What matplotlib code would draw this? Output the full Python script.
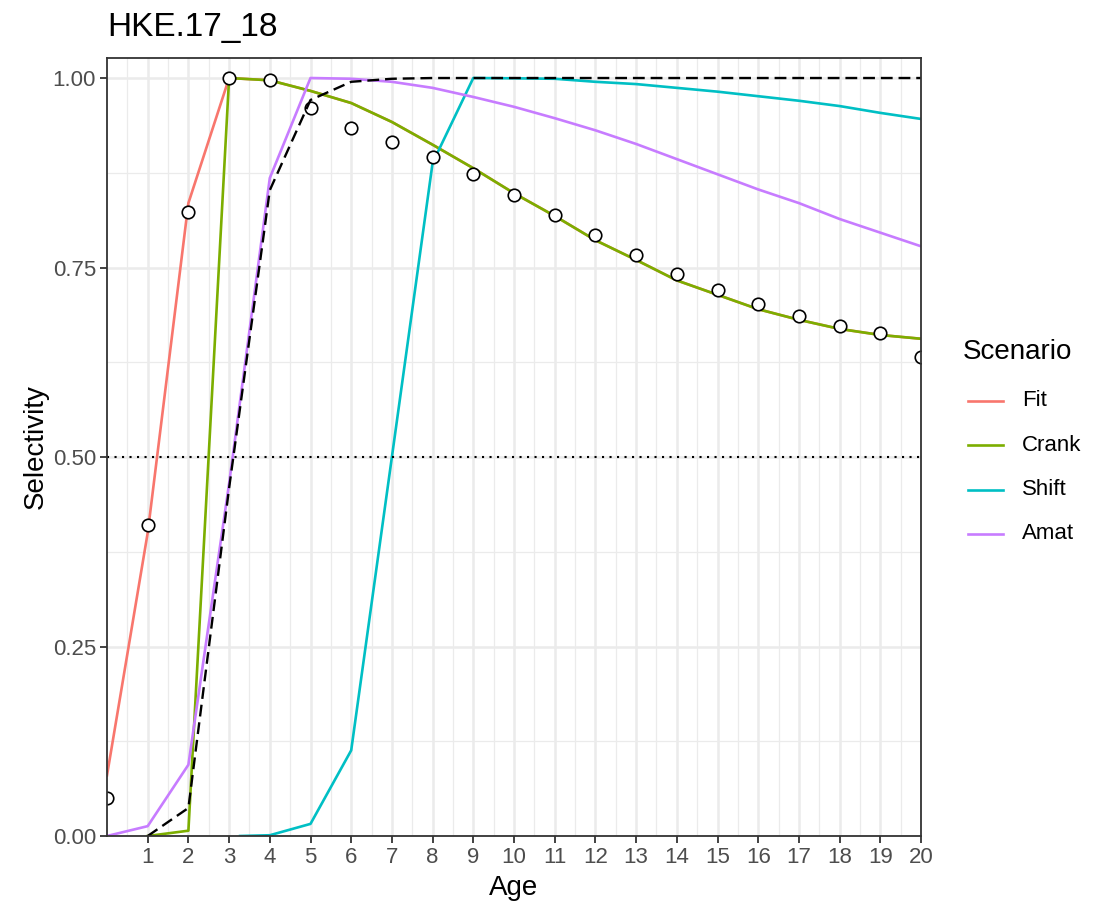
import matplotlib
matplotlib.use("Agg")
import matplotlib.pyplot as plt
from matplotlib.lines import Line2D
import numpy as np

plt.rcParams['font.family'] = ['Liberation Sans', 'DejaVu Sans']

# ---- data ----
ages = list(range(0, 21))
observed = [0.050, 0.410, 0.823, 1.000, 0.997, 0.960, 0.934, 0.916, 0.896, 0.873,
            0.846, 0.819, 0.793, 0.767, 0.741, 0.720, 0.702, 0.686, 0.673, 0.664, 0.632]

crank_ages = list(range(1, 21))
crank = [0.000, 0.007, 1.000, 0.997, 0.983, 0.967, 0.942, 0.912, 0.881, 0.848,
         0.818, 0.786, 0.760, 0.733, 0.714, 0.695, 0.681, 0.669, 0.661, 0.656]

fit = [0.080, 0.400, 0.835, 1.000, 0.997, 0.983, 0.967, 0.942, 0.912, 0.881, 0.848,
       0.818, 0.786, 0.760, 0.733, 0.714, 0.695, 0.681, 0.669, 0.661, 0.656]

shift_ages = [3.27, 4, 5, 6, 7, 8, 9, 10, 11, 12, 13, 14, 15, 16, 17, 18, 19, 20]
shift = [0.000, 0.001, 0.016, 0.113, 0.500, 0.888, 1.000, 0.9996, 0.999, 0.995,
         0.992, 0.987, 0.982, 0.976, 0.970, 0.963, 0.954, 0.946]

amat = [0.000, 0.013, 0.094, 0.465, 0.868, 1.000, 0.999, 0.995, 0.987, 0.975, 0.962,
        0.947, 0.931, 0.913, 0.893, 0.873, 0.853, 0.835, 0.814, 0.796, 0.778]

mat_ages = list(range(1, 21))
maturity = [0.000, 0.037, 0.459, 0.852, 0.971, 0.995, 0.999, 1.000, 1.000, 1.000,
            1.000, 1.000, 1.000, 1.000, 1.000, 1.000, 1.000, 1.000, 1.000, 1.000]

scenarios = ["Fit", "Crank", "Shift", "Amat"]
colors = ["#F8766D", "#7CAE00", "#00BFC4", "#C77CFF"]

x_ticks = list(range(1, 21))
y_ticks = [0.0, 0.25, 0.5, 0.75, 1.0]
y_labels = ["0.00", "0.25", "0.50", "0.75", "1.00"]

W, H = 1107, 906

# ---- figure ----
fig = plt.figure(figsize=(W / 100, H / 100), dpi=100)
ax = fig.add_axes([107/W, 70/H, (921-107)/W, (836-58)/H])

ax.set_xlim(0, 20)
ax.set_ylim(0, 1.0264)

# grid
ax.set_xticks(x_ticks)
ax.set_xticks(np.arange(0.5, 20, 0.5), minor=True)
ax.set_yticks(y_ticks)
ax.set_yticks([0.125, 0.375, 0.625, 0.875], minor=True)
ax.set_yticklabels(y_labels)
ax.grid(which='major', color='#EBEBEB', linewidth=1.8, zorder=0)
ax.grid(which='minor', color='#EBEBEB', linewidth=0.9, zorder=0)
ax.set_axisbelow(True)
ax.tick_params(which='minor', length=0)
ax.tick_params(which='major', length=5, width=1.3, color='#333333',
               labelsize=16, labelcolor='#4D4D4D', pad=3)
for s in ax.spines.values():
    s.set_color('#333333')
    s.set_linewidth(1.3)
    s.set_zorder(6)

lw = 1.9
series = [(ages, fit), (crank_ages, crank), (shift_ages, shift), (ages, amat)]
for (xa, ya), name, c in zip(series, scenarios, colors):
    ax.plot(xa, ya, color=c, lw=lw, label=name, zorder=2)

ax.axhline(0.5, color='black', lw=1.5, linestyle=(0, (1, 2.6)), zorder=3)

ax.plot(ages, observed, linestyle='none', marker='o', markersize=9,
        markerfacecolor='white', markeredgecolor='black', markeredgewidth=1.2,
        zorder=4, clip_on=True)

ax.plot(mat_ages, maturity, color='black', lw=1.7, dashes=(5, 2.5), zorder=5)

ax.set_xlabel("Age", fontsize=20, labelpad=5)
ax.set_ylabel("Selectivity", fontsize=20, labelpad=3)
ax.set_title("HKE.17_18", fontsize=24, loc='left', pad=16)

# ---- legend (ggplot-style, right of panel) ----
fig.text(963/W, 1 - 352/H, "Scenario", fontsize=20, ha='left', va='center')
for i, (name, c) in enumerate(zip(scenarios, colors)):
    yc = 1 - (401 + 44.3 * i) / H
    fig.add_artist(Line2D([968/W, 1003/W], [yc, yc], color=c, lw=lw,
                          transform=fig.transFigure))
    fig.text(1022/W, yc, name, fontsize=16, ha='left', va='center')

fig.savefig("out.png", dpi=100)
